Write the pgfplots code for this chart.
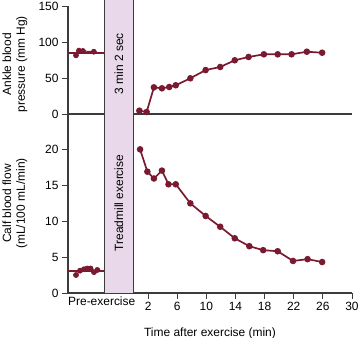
\documentclass[border=0pt]{standalone}
\usepackage{pgfplots}
\pgfplotsset{compat=1.18}
\usepackage{fontspec}
\setmainfont{Liberation Sans}
\definecolor{maroon}{RGB}{122,26,48}
\definecolor{bandc}{RGB}{232,216,234}
\definecolor{axgray}{RGB}{60,60,60}
\pgfplotsset{base/.style={
  scale only axis, width=284bp, xmin=-9, xmax=30,
  axis x line=bottom, axis y line=left,
  axis line style={axgray, line width=1.1pt, -},
  tick align=outside, major tick length=6bp,
  tick style={axgray, line width=0.9pt},
  every tick label/.append style={font=\fontsize{12}{14}\selectfont},
  /pgf/number format/assume math mode=true,
  clip=false,
  label style={font=\fontsize{12}{14}\selectfont},
},
dat/.style={maroon, line width=1.7pt, mark=*, mark size=2.4pt, mark options={solid}}}
\begin{document}
\begin{tikzpicture}
\begin{axis}[base, at={(68bp,224bp)}, anchor=south west, height=108bp,
  ymin=0, ymax=150, ytick={0,50,100,150}, xtick=\empty,
  ylabel={Ankle blood\\pressure (mm Hg)},
  ylabel style={align=center, at={(axis description cs:-0.187,0.46)}, anchor=center}]
\addplot[fill=bandc, draw=none] coordinates {(-4.05,158.3) (0,158.3)} \closedcycle;
\addplot[axgray, line width=1pt] coordinates {(-4.05,0) (-4.05,158.3)};
\addplot[axgray, line width=1pt] coordinates {(0,0) (0,158.3)};
\node[rotate=90, font=\fontsize{12}{14}\selectfont] at (axis cs:-2.03,70) {3 min 2 sec};
\addplot[maroon, line width=1.7pt] coordinates {(-9,85) (-4.05,85)};
\addplot[dat, line width=1pt] coordinates {(-7.9,81.5) (-7.5,88) (-6.95,87.5) (-5.45,86.5)};
\addplot[dat] coordinates {(0.8,4.6)(1.8,2.8)(2.8,37)(3.9,35.7)(4.9,37.5)(5.8,39.9)(7.8,49.6)(9.9,61)(11.9,65.3)(13.9,74.6)(15.8,79.2)(17.9,82.9)(19.8,82.9)(21.7,82.9)(23.8,86.5)(25.9,85.1)};
\end{axis}
\begin{axis}[base, at={(68bp,45bp)}, anchor=south west, height=179bp,
  ymin=0, ymax=24.86, ytick={0,5,10,15,20}, xtick={2,6,...,30},
  extra x ticks={-4.37}, extra x tick labels={Pre-exercise},
  extra x tick style={major tick length=0pt},
  ylabel={Calf blood flow\\(mL/100 mL/min)},
  ylabel style={align=center, at={(axis description cs:-0.187,0.5)}, anchor=center},
  xlabel={Time after exercise (min)}, xlabel style={yshift=-4bp}]
\addplot[fill=bandc, draw=none] coordinates {(-4.05,24.86) (0,24.86)} \closedcycle;
\addplot[axgray, line width=1pt] coordinates {(-4.05,0) (-4.05,24.86)};
\addplot[axgray, line width=1pt] coordinates {(0,0) (0,24.86)};
\node[rotate=90, font=\fontsize{12}{14}\selectfont] at (axis cs:-2.03,12.5) {Treadmill exercise};
\addplot[maroon, line width=1.7pt] coordinates {(-9,3.1) (-4.05,3.1)};
\addplot[dat, line width=1pt] coordinates {(-7.9,2.5) (-7.35,3.1) (-6.8,3.3) (-6.35,3.4) (-5.9,3.4) (-5.43,2.9) (-4.97,3.2)};
\addplot[dat] coordinates {(0.9,19.95)(1.9,16.85)(2.8,15.9)(3.9,17.0)(4.8,15.1)(5.8,15.1)(7.8,12.45)(9.9,10.7)(11.9,9.2)(13.9,7.6)(15.9,6.5)(17.8,5.95)(19.8,5.8)(21.9,4.45)(23.9,4.7)(25.9,4.3)};
\end{axis}
\pgfresetboundingbox
\path[use as bounding box] (0,0) rectangle (359bp,338bp);
\end{tikzpicture}
\end{document}
